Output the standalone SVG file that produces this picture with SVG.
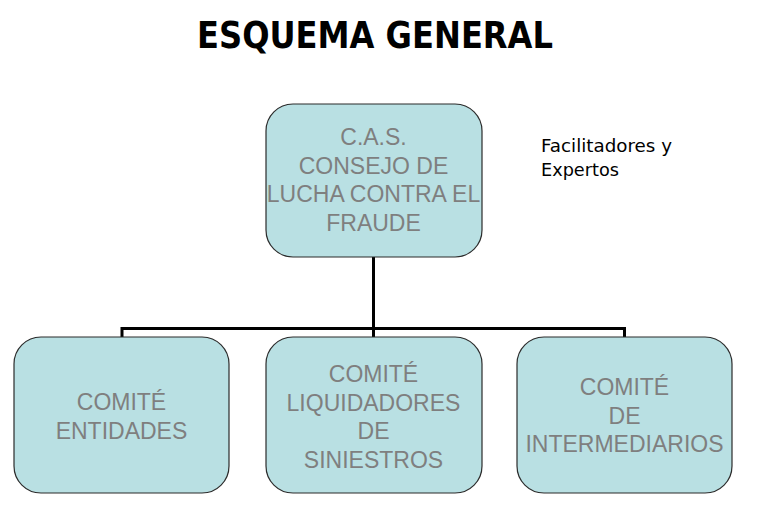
<svg xmlns="http://www.w3.org/2000/svg" width="757" height="514" viewBox="0 0 757 514">
<style>
.box{fill:#b9e0e3;stroke:#2b2b2b;stroke-width:1.2}
.lbl{font-family:"Liberation Sans",Arial,sans-serif;font-size:23px;fill:#7f7f7f;text-anchor:middle}
.conn{fill:none;stroke:#000;stroke-width:3}
.title{font-family:"DejaVu Sans",Verdana,sans-serif;font-weight:bold;font-size:37px;fill:#000}
.note{font-family:"DejaVu Sans",Verdana,sans-serif;font-size:17px;fill:#000}
</style>
<rect width="757" height="514" fill="#fff"/>
<text class="title" x="197" y="48" textLength="356" lengthAdjust="spacingAndGlyphs">ESQUEMA GENERAL</text>
<g id="facilitadores">
<text class="note" x="541" y="152" textLength="131" lengthAdjust="spacingAndGlyphs">Facilitadores y</text>
<text class="note" x="541" y="176" textLength="78" lengthAdjust="spacingAndGlyphs">Expertos</text>
</g>
<g id="connectors">
<path class="conn" d="M373.5 257 V328.5 M122 337 V328.5 H624.5 V337 M373.5 328.5 V337"/>
</g>
<g id="cas">
<rect class="box" x="266" y="104" width="216" height="153" rx="27"/>
<text class="lbl" x="373.5" y="145">C.A.S.</text>
<text class="lbl" x="373.5" y="173.5">CONSEJO DE</text>
<text class="lbl" x="373.5" y="202">LUCHA CONTRA EL</text>
<text class="lbl" x="373.5" y="230.5">FRAUDE</text>
</g>
<g id="entidades">
<rect class="box" x="14" y="337" width="215" height="156" rx="27"/>
<text class="lbl" x="121.5" y="410">COMITÉ</text>
<text class="lbl" x="121.5" y="438.5">ENTIDADES</text>
</g>
<g id="liquidadores">
<rect class="box" x="266" y="337" width="216" height="156" rx="27"/>
<text class="lbl" x="373.5" y="382">COMITÉ</text>
<text class="lbl" x="373.5" y="410.5">LIQUIDADORES</text>
<text class="lbl" x="373.5" y="439">DE</text>
<text class="lbl" x="373.5" y="467.5">SINIESTROS</text>
</g>
<g id="intermediarios">
<rect class="box" x="517" y="337" width="215" height="156" rx="27"/>
<text class="lbl" x="624.5" y="395">COMITÉ</text>
<text class="lbl" x="624.5" y="423.5">DE</text>
<text class="lbl" x="624.5" y="452">INTERMEDIARIOS</text>
</g>
</svg>
